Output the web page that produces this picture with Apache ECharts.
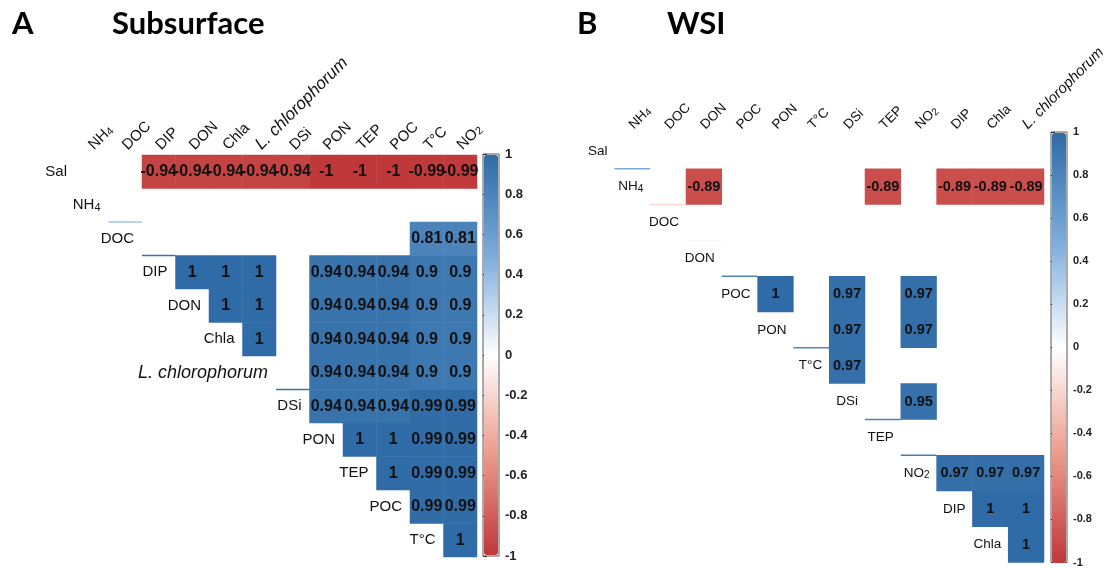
<!DOCTYPE html>
<html><head><meta charset="utf-8">
<script src="https://cdn.jsdelivr.net/npm/echarts@6/dist/echarts.min.js"></script>
<style>html,body{margin:0;padding:0;background:#fff}#c{width:1108px;height:568px}</style>
</head><body><div id="c"></div>
<script>
// ---------- DATA ----------
const varsA = ['Sal','NH₄','DOC','DIP','DON','Chla','L. chlorophorum','DSi','PON','TEP','POC','T°C','NO₂'];
// upper triangle, row i lists correlations with variables i+1 .. end (null = blank / not significant)
const corrA = [
  [null, null, -0.94, -0.94, -0.94, -0.94, -0.94, -1, -1, -1, -0.99, -0.99],
  [null, null, null, null, null, null, null, null, null, null, null],
  [null, null, null, null, null, null, null, null, 0.81, 0.81],
  [1, 1, 1, null, 0.94, 0.94, 0.94, 0.9, 0.9],
  [1, 1, null, 0.94, 0.94, 0.94, 0.9, 0.9],
  [1, null, 0.94, 0.94, 0.94, 0.9, 0.9],
  [null, 0.94, 0.94, 0.94, 0.9, 0.9],
  [0.94, 0.94, 0.94, 0.99, 0.99],
  [1, 1, 0.99, 0.99],
  [1, 0.99, 0.99],
  [0.99, 0.99],
  [1]
];
const edgeA = [['DOC', 0.35], ['DIP', 0.95], ['DSi', 0.95]];

const varsB = ['Sal','NH₄','DOC','DON','POC','PON','T°C','DSi','TEP','NO₂','DIP','Chla','L. chlorophorum'];
const corrB = [
  [null, null, null, null, null, null, null, null, null, null, null, null],
  [null, -0.89, null, null, null, null, -0.89, null, -0.89, -0.89, -0.89],
  [null, null, null, null, null, null, null, null, null, null],
  [null, null, null, null, null, null, null, null, null],
  [1, null, 0.97, null, 0.97, null, null, null],
  [null, 0.97, null, 0.97, null, null, null],
  [0.97, null, null, null, null, null],
  [null, 0.95, null, null, null],
  [null, null, null, null],
  [0.97, 0.97, 0.97],
  [1, 1],
  [1]
];
const edgeB = [['NH₄', 0.5], ['DOC', -0.2], ['DON', 0.05], ['POC', 0.8], ['T°C', 0.8], ['TEP', 0.8], ['NO₂', 0.85]];

const titlesA = ['A', 'Subsurface'];
const titlesB = ['B', 'WSI'];

// ---------- STYLE / LAYOUT ----------
const palette = ['#BF383A', '#EB9A8A', '#FFFFFF', '#7AABDB', '#2F6BA6'];
const FONT = '"Liberation Sans", Arial, sans-serif';
const LA = {left: 75, top: 155, cell: 33.5, rowFont: 15, italFont: 18, italColFont: 17, valFont: 16, gap: 8,
            colDx: 5, colGap: 2, bar: {left: 484, top: 155, w: 14, h: 400}, barFont: 13};
const LB = {left: 614.4, top: 133, cell: 35.8, rowFont: 13.5, italFont: 16, italColFont: 15, valFont: 14.5, gap: 7,
            colDx: 4, colGap: 1, bar: {left: 1052, top: 133, w: 14, h: 430}, barFont: 11};

function heatData(corr) {
  const out = [];
  corr.forEach((row, i) => row.forEach((v, k) => { if (v !== null) out.push([i + k, i, v]); }));
  return out;
}
function edgeData(edges, vars) {
  return edges.map(([name, v]) => { const r = vars.indexOf(name); return [r - 1, r, v]; });
}
// subscript digits -> rich text token
function richName(name) {
  return name.replace(/[\u2080-\u2089]/g, c => '{s|' + (c.charCodeAt(0) - 0x2080) + '}');
}
function labelStyle(name, size, italSize, align, vAlign) {
  const ital = name.startsWith('L.');
  const fs = ital ? italSize : size;
  return {
    text: richName(name), align: align, verticalAlign: vAlign, fill: '#111',
    fontFamily: FONT, fontSize: fs, fontStyle: ital ? 'italic' : 'normal',
    rich: {s: {fontFamily: FONT, fontSize: Math.round(fs * 0.72), fill: '#111', verticalAlign: 'bottom',
               lineHeight: fs * 1.05}}
  };
}

const series = [];
const grids = [];
const xAxes = [];
const yAxes = [];
const visualMaps = [];

function panel(vars, corr, edges, L, gi) {
  const rows = vars.slice(0, vars.length - 1);
  const cols = vars.slice(1);
  const n = rows.length;
  grids.push({left: L.left, top: L.top, width: L.cell * n, height: L.cell * n, containLabel: false});
  xAxes.push({gridIndex: gi, type: 'category', data: cols, show: false});
  yAxes.push({gridIndex: gi, type: 'category', data: rows, inverse: true, show: false});
  const sHeat = series.length;
  series.push({
    type: 'heatmap', xAxisIndex: gi, yAxisIndex: gi, data: heatData(corr), silent: true,
    label: {show: true, color: '#111', fontWeight: 'bold', fontSize: L.valFont, fontFamily: FONT,
            formatter: p => String(p.value[2])},
    itemStyle: {borderWidth: 0}, emphasis: {disabled: true}
  });
  const sEdge = series.length;
  series.push({
    type: 'custom', xAxisIndex: gi, yAxisIndex: gi, data: edgeData(edges, vars), silent: true, clip: false, z: 3,
    renderItem: (params, api) => {
      const p = api.coord([api.value(0), api.value(1)]);
      const s = api.size([1, 1]);
      return {type: 'line', shape: {x1: p[0] - s[0] / 2, y1: p[1] - s[1] / 2, x2: p[0] + s[0] / 2, y2: p[1] - s[1] / 2},
              style: {stroke: api.visual('color'), lineWidth: 1.5}};
    }
  });
  // row labels along the diagonal
  series.push({
    type: 'custom', xAxisIndex: gi, yAxisIndex: gi, data: rows.map((r, i) => [i, i]), silent: true, clip: false, z: 5,
    renderItem: (params, api) => {
      const i = api.value(0);
      const p = api.coord([i, i]);
      const s = api.size([1, 1]);
      return {type: 'text', x: p[0] - s[0] / 2 - L.gap, y: p[1],
              style: labelStyle(rows[i], L.rowFont, L.italFont, 'right', 'middle')};
    }
  });
  // column labels on top, rotated 45°
  series.push({
    type: 'custom', xAxisIndex: gi, yAxisIndex: gi, data: cols.map((c, j) => [j, 0]), silent: true, clip: false, z: 5,
    renderItem: (params, api) => {
      const j = api.value(0);
      const p = api.coord([j, 0]);
      const s = api.size([1, 1]);
      return {type: 'text', x: p[0] + L.colDx, y: p[1] - s[1] / 2 - L.colGap, rotation: Math.PI / 4,
              style: labelStyle(cols[j], L.rowFont, L.italColFont, 'left', 'bottom')};
    }
  });
  visualMaps.push({
    type: 'continuous', min: -1, max: 1, seriesIndex: [sHeat, sEdge], dimension: 2,
    inRange: {color: palette}, calculable: false, orient: 'vertical', left: L.bar.left, top: L.bar.top,
    itemWidth: L.bar.w, itemHeight: L.bar.h, text: null, padding: 0, hoverLink: false
  });
  // colour bar axis
  const cg = grids.length;
  grids.push({left: L.bar.left - 1, top: L.bar.top - 1, width: L.bar.w + 2, height: L.bar.h + 2, show: true,
              borderColor: '#555', borderWidth: 1, backgroundColor: 'transparent'});
  xAxes.push({gridIndex: cg, type: 'value', show: false});
  yAxes.push({gridIndex: cg, type: 'value', min: -1, max: 1, interval: 0.2, position: 'right',
              axisLine: {show: false}, splitLine: {show: false},
              axisTick: {show: true, length: 4, lineStyle: {color: '#333'}},
              axisLabel: {fontSize: L.barFont, fontWeight: 'bold', color: '#222', margin: 6, fontFamily: FONT}});
}

panel(varsA, corrA, edgeA, LA, 0);
panel(varsB, corrB, edgeB, LB, 2);

const TF = {fontFamily: 'Lato, sans-serif', fontWeight: 'bold', fontSize: 31, color: '#000'};
const option = {
  animation: false,
  title: [
    {text: titlesA[0], left: 12, top: 8, padding: 0, textStyle: TF},
    {text: titlesA[1], left: 112, top: 8, padding: 0, textStyle: TF},
    {text: titlesB[0], left: 577, top: 8, padding: 0, textStyle: TF},
    {text: titlesB[1], left: 667, top: 8, padding: 0, textStyle: TF}
  ],
  grid: grids, xAxis: xAxes, yAxis: yAxes, visualMap: visualMaps, series: series
};
const chart = echarts.init(document.getElementById('c'), null, {renderer: 'canvas'});
chart.setOption(option);
</script></body></html>
